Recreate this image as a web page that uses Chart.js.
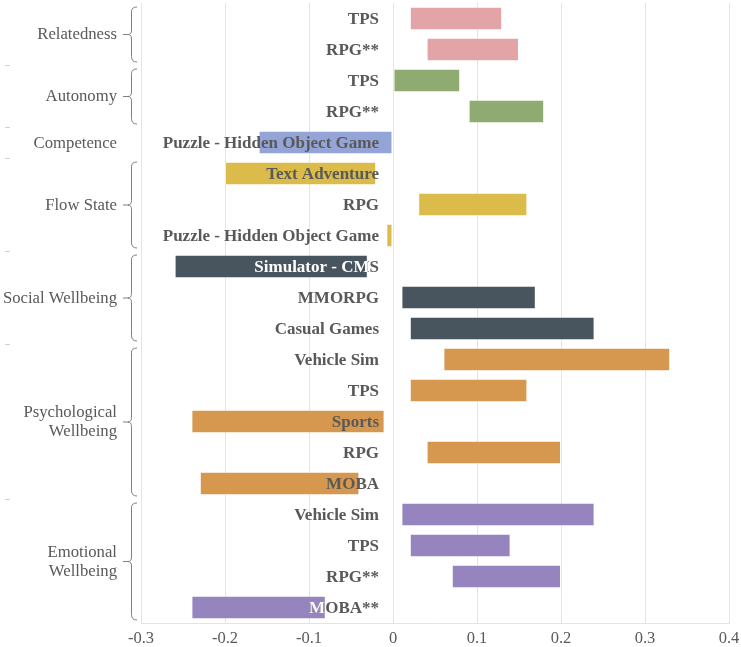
<!DOCTYPE html>
<html>
<head>
<meta charset="utf-8">
<script src="https://cdn.jsdelivr.net/npm/chart.js@4/dist/chart.umd.min.js"></script>
<style>
html,body{margin:0;padding:0;background:#fff;}
#wrap{width:741px;height:647px;position:relative;}
</style>
</head>
<body>
<div id="wrap"><canvas id="c" width="741" height="647"></canvas></div>
<script>
// ---- data ----
const groups = ['Relatedness', 'Autonomy', 'Competence', 'Flow State', 'Social Wellbeing', ['Psychological', 'Wellbeing'], ['Emotional', 'Wellbeing']];
const groupSizes = [2, 2, 1, 3, 3, 5, 4];
const groupColors = ['#E3A4A8', '#8FAB72', '#94A4D7', '#DBBB4A', '#48545E', '#D6974F', '#9584BD'];
const groupInverseText = [false, false, false, false, true, false, true];
const games = ['TPS', 'RPG**', 'TPS', 'RPG**', 'Puzzle - Hidden Object Game', 'Text Adventure', 'RPG', 'Puzzle - Hidden Object Game', 'Simulator - CMS', 'MMORPG', 'Casual Games', 'Vehicle Sim', 'TPS', 'Sports', 'RPG', 'MOBA', 'Vehicle Sim', 'TPS', 'RPG**', 'MOBA**'];
const lowValues  = [0.02, 0.04, 0.00, 0.09, -0.16, -0.20, 0.03, -0.008, -0.26, 0.01, 0.02, 0.06, 0.02, -0.24, 0.04, -0.23, 0.01, 0.02, 0.07, -0.24];
const highValues = [0.13, 0.15, 0.08, 0.18, 0.00, -0.02, 0.16, 0.00, -0.03, 0.17, 0.24, 0.33, 0.16, -0.01, 0.20, -0.04, 0.24, 0.14, 0.20, -0.08];
const xTickLabels = ['-0.3', '-0.2', '-0.1', '0', '0.1', '0.2', '0.3', '0.4'];

// derived
const groupOf = [];
groupSizes.forEach((n, g) => { for (let k = 0; k < n; k++) groupOf.push(g); });
const rowKeys = games.map((g, i) => i);
const barData = lowValues.map((lo, i) => [lo, highValues[i]]);
const barColors = groupOf.map(g => groupColors[g]);

const SERIF = '"Liberation Serif", "Times New Roman", serif';
const TEXT = '#595959';

const overlayPlugin = {
  id: 'overlay',
  afterDatasetsDraw(chart) {
    const ctx = chart.ctx;
    const meta = chart.getDatasetMeta(0);
    const xs = chart.scales.x;
    const lx = xs.getPixelForValue(0) - 14;
    ctx.save();
    ctx.font = 'bold 17px ' + SERIF;
    ctx.textAlign = 'right';
    ctx.textBaseline = 'middle';
    meta.data.forEach((bar, i) => {
      const p = bar.getProps(['x', 'y', 'base', 'height'], true);
      ctx.fillStyle = TEXT;
      ctx.fillText(games[i], lx, p.y + 1);
      if (groupInverseText[groupOf[i]]) {
        ctx.save();
        ctx.beginPath();
        ctx.rect(Math.min(p.x, p.base), p.y - p.height / 2, Math.abs(p.x - p.base), p.height);
        ctx.clip();
        ctx.fillStyle = '#ffffff';
        ctx.fillText(games[i], lx, p.y + 1);
        ctx.restore();
      }
    });
    ctx.restore();
  },
  afterDraw(chart) {
    const ctx = chart.ctx;
    const ys = chart.scales.y;
    const half = 12;
    ctx.save();
    let start = 0;
    groupSizes.forEach((n, g) => {
      const first = ys.getPixelForValue(start);
      const last = ys.getPixelForValue(start + n - 1);
      const mid = (first + last) / 2;
      ctx.fillStyle = TEXT;
      ctx.font = '16.7px ' + SERIF;
      ctx.textAlign = 'right';
      ctx.textBaseline = 'middle';
      const lines = Array.isArray(groups[g]) ? groups[g] : [groups[g]];
      const lh = 19;
      lines.forEach((t, k) => {
        ctx.fillText(t, 117, mid + 1 + (k - (lines.length - 1) / 2) * lh);
      });
      if (n > 1) {
        const top = first - half, bot = last + half, bx = 131;
        ctx.strokeStyle = '#7f7f7f';
        ctx.lineWidth = 1;
        ctx.beginPath();
        ctx.moveTo(bx + 6, top + 0.5);
        ctx.quadraticCurveTo(bx + 0.5, top + 0.5, bx + 0.5, top + 5);
        ctx.lineTo(bx + 0.5, mid - 4);
        ctx.quadraticCurveTo(bx + 0.5, mid + 0.5, bx - 3, mid + 0.5);
        ctx.quadraticCurveTo(bx + 0.5, mid + 0.5, bx + 0.5, mid + 5);
        ctx.lineTo(bx + 0.5, bot - 5);
        ctx.quadraticCurveTo(bx + 0.5, bot + 0.5, bx + 6, bot + 0.5);
        ctx.stroke();
        ctx.beginPath();
        ctx.moveTo(123, mid + 0.5);
        ctx.lineTo(bx - 2, mid + 0.5);
        ctx.stroke();
      }
      if (start + n < games.length) {
        const yb = Math.round((last + ys.getPixelForValue(start + n)) / 2) + 0.5;
        ctx.strokeStyle = '#d0d0d0';
        ctx.beginPath();
        ctx.moveTo(5, yb);
        ctx.lineTo(10, yb);
        ctx.stroke();
      }
      start += n;
    });
    ctx.restore();
  }
};

new Chart(document.getElementById('c'), {
  type: 'bar',
  data: {
    labels: rowKeys,
    datasets: [{
      data: barData,
      backgroundColor: barColors,
      borderColor: 'rgba(255,255,255,0.35)',
      borderWidth: 1,
      borderSkipped: false,
      barPercentage: 0.76,
      categoryPercentage: 1
    }]
  },
  options: {
    indexAxis: 'y',
    responsive: false,
    animation: false,
    devicePixelRatio: 1,
    layout: { padding: { left: 141, right: 12, top: 3, bottom: 0 } },
    plugins: { legend: { display: false }, tooltip: { enabled: false } },
    scales: {
      x: {
        min: -0.3, max: 0.4,
        afterFit: s => { s.height = 24; s.paddingLeft = 0; s.paddingRight = 0; },
        ticks: {
          stepSize: 0.1,
          padding: 6,
          color: TEXT,
          font: { family: SERIF, size: 16.5 },
          callback: (v, i) => xTickLabels[i]
        },
        grid: { color: '#e4e4e4', drawTicks: false },
        border: { display: true, color: '#e4e4e4' }
      },
      y: {
        display: false,
        offset: true
      }
    }
  },
  plugins: [overlayPlugin]
});
</script>
</body>
</html>
